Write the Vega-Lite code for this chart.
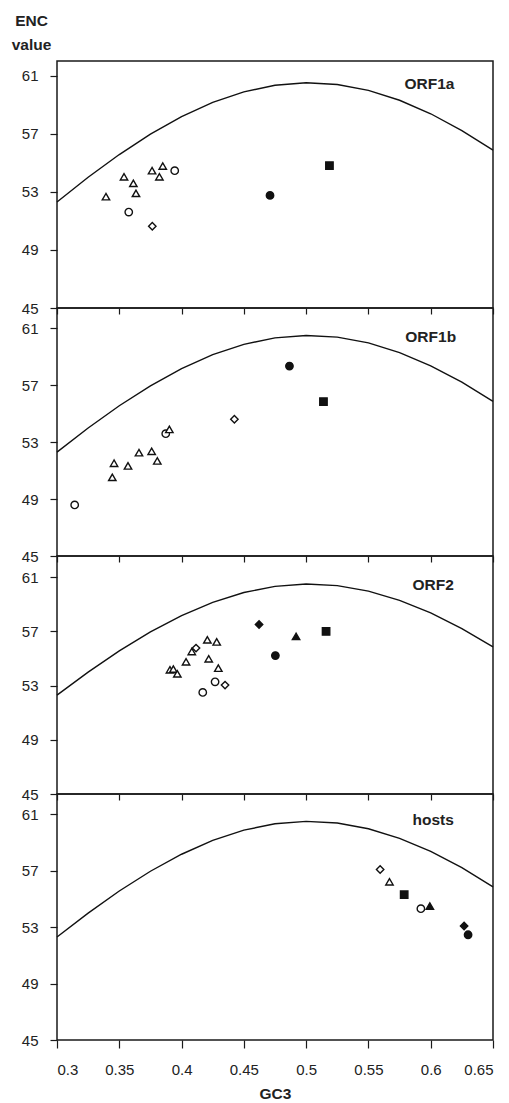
{
  "$schema": "https://vega.github.io/schema/vega-lite/v6.json",
  "autosize": {"type": "pad"},
  "padding": {"left": 10, "top": 12, "right": 0, "bottom": 0},
  "background": "white",
  "spacing": 0,
  "bounds": "flush",
  "config": {
    "font": "Liberation Sans",
    "view": {"stroke": "#1a1a1a", "strokeWidth": 1.5},
    "axis": {"grid": false, "domain": false, "tickColor": "#1a1a1a", "tickWidth": 1.2, "labelColor": "#222", "labelFont": "Liberation Sans", "labelFontSize": 15, "titleFont": "Liberation Sans", "titleFontWeight": "bold", "titleFontSize": 15.5, "titleColor": "#222"}
  },
  "datasets": {
    "curve": [
      {"gc3": 0.3, "enc": 52.3},
      {"gc3": 0.325, "enc": 53.995},
      {"gc3": 0.35, "enc": 55.561},
      {"gc3": 0.375, "enc": 56.963},
      {"gc3": 0.4, "enc": 58.169},
      {"gc3": 0.425, "enc": 59.149},
      {"gc3": 0.45, "enc": 59.876},
      {"gc3": 0.475, "enc": 60.33},
      {"gc3": 0.5, "enc": 60.5},
      {"gc3": 0.525, "enc": 60.38},
      {"gc3": 0.55, "enc": 59.976},
      {"gc3": 0.575, "enc": 59.299},
      {"gc3": 0.6, "enc": 58.369},
      {"gc3": 0.625, "enc": 57.213},
      {"gc3": 0.65, "enc": 55.861}
    ],
    "labels": [
      {"panel": "ORF1a", "gc3": 0.599, "enc": 60.42},
      {"panel": "ORF1b", "gc3": 0.6, "enc": 60.41},
      {"panel": "ORF2", "gc3": 0.602, "enc": 60.46},
      {"panel": "hosts", "gc3": 0.602, "enc": 60.6}
    ],
    "points": [
      {"panel": "ORF1a", "gc3": 0.3393, "enc": 52.66, "marker": "open triangle"},
      {"panel": "ORF1a", "gc3": 0.3538, "enc": 54.03, "marker": "open triangle"},
      {"panel": "ORF1a", "gc3": 0.3613, "enc": 53.58, "marker": "open triangle"},
      {"panel": "ORF1a", "gc3": 0.3634, "enc": 52.89, "marker": "open triangle"},
      {"panel": "ORF1a", "gc3": 0.3763, "enc": 54.45, "marker": "open triangle"},
      {"panel": "ORF1a", "gc3": 0.3822, "enc": 54.03, "marker": "open triangle"},
      {"panel": "ORF1a", "gc3": 0.3849, "enc": 54.77, "marker": "open triangle"},
      {"panel": "ORF1a", "gc3": 0.3945, "enc": 54.45, "marker": "open circle"},
      {"panel": "ORF1a", "gc3": 0.3576, "enc": 51.6, "marker": "open circle"},
      {"panel": "ORF1a", "gc3": 0.3765, "enc": 50.63, "marker": "open diamond"},
      {"panel": "ORF1a", "gc3": 0.471, "enc": 52.75, "marker": "filled circle"},
      {"panel": "ORF1a", "gc3": 0.5187, "enc": 54.8, "marker": "filled square"},
      {"panel": "ORF1b", "gc3": 0.3142, "enc": 48.59, "marker": "open circle"},
      {"panel": "ORF1b", "gc3": 0.3444, "enc": 50.53, "marker": "open triangle"},
      {"panel": "ORF1b", "gc3": 0.3458, "enc": 51.52, "marker": "open triangle"},
      {"panel": "ORF1b", "gc3": 0.357, "enc": 51.33, "marker": "open triangle"},
      {"panel": "ORF1b", "gc3": 0.3658, "enc": 52.26, "marker": "open triangle"},
      {"panel": "ORF1b", "gc3": 0.376, "enc": 52.36, "marker": "open triangle"},
      {"panel": "ORF1b", "gc3": 0.3805, "enc": 51.68, "marker": "open triangle"},
      {"panel": "ORF1b", "gc3": 0.3873, "enc": 53.6, "marker": "open circle"},
      {"panel": "ORF1b", "gc3": 0.3902, "enc": 53.9, "marker": "open triangle"},
      {"panel": "ORF1b", "gc3": 0.4424, "enc": 54.61, "marker": "open diamond"},
      {"panel": "ORF1b", "gc3": 0.4866, "enc": 58.35, "marker": "filled circle"},
      {"panel": "ORF1b", "gc3": 0.5139, "enc": 55.85, "marker": "filled square"},
      {"panel": "ORF2", "gc3": 0.3907, "enc": 54.17, "marker": "open triangle"},
      {"panel": "ORF2", "gc3": 0.3934, "enc": 54.22, "marker": "open triangle"},
      {"panel": "ORF2", "gc3": 0.3966, "enc": 53.87, "marker": "open triangle"},
      {"panel": "ORF2", "gc3": 0.4036, "enc": 54.76, "marker": "open triangle"},
      {"panel": "ORF2", "gc3": 0.4082, "enc": 55.52, "marker": "open triangle"},
      {"panel": "ORF2", "gc3": 0.4116, "enc": 55.77, "marker": "open diamond"},
      {"panel": "ORF2", "gc3": 0.4207, "enc": 56.38, "marker": "open triangle"},
      {"panel": "ORF2", "gc3": 0.4282, "enc": 56.23, "marker": "open triangle"},
      {"panel": "ORF2", "gc3": 0.4218, "enc": 54.98, "marker": "open triangle"},
      {"panel": "ORF2", "gc3": 0.4295, "enc": 54.29, "marker": "open triangle"},
      {"panel": "ORF2", "gc3": 0.4269, "enc": 53.28, "marker": "open circle"},
      {"panel": "ORF2", "gc3": 0.417, "enc": 52.5, "marker": "open circle"},
      {"panel": "ORF2", "gc3": 0.4349, "enc": 53.04, "marker": "open diamond"},
      {"panel": "ORF2", "gc3": 0.4622, "enc": 57.51, "marker": "filled diamond"},
      {"panel": "ORF2", "gc3": 0.4753, "enc": 55.22, "marker": "filled circle"},
      {"panel": "ORF2", "gc3": 0.4919, "enc": 56.63, "marker": "filled triangle"},
      {"panel": "ORF2", "gc3": 0.516, "enc": 57.0, "marker": "filled square"},
      {"panel": "hosts", "gc3": 0.5594, "enc": 57.09, "marker": "open diamond"},
      {"panel": "hosts", "gc3": 0.5669, "enc": 56.22, "marker": "open triangle"},
      {"panel": "hosts", "gc3": 0.5787, "enc": 55.3, "marker": "filled square"},
      {"panel": "hosts", "gc3": 0.5921, "enc": 54.31, "marker": "open circle"},
      {"panel": "hosts", "gc3": 0.5993, "enc": 54.5, "marker": "filled triangle"},
      {"panel": "hosts", "gc3": 0.6268, "enc": 53.08, "marker": "filled diamond"},
      {"panel": "hosts", "gc3": 0.63, "enc": 52.46, "marker": "filled circle"}
    ]
  },
  "vconcat": [
    {
      "width": 436, "height": 247,
      "layer": [
        {"data": {"name": "curve"}, "mark": {"type": "line", "color": "#111", "strokeWidth": 1.4},
         "encoding": {
           "x": {"field": "gc3", "type": "quantitative", "scale": {"domain": [0.3, 0.65], "nice": false, "zero": false}, "axis": {"values": [0.3, 0.35, 0.4, 0.45, 0.5, 0.55, 0.6, 0.65], "labels": false, "title": null, "tickSize": 6}},
           "y": {"field": "enc", "type": "quantitative", "scale": {"domain": [45, 62], "nice": false, "zero": false}, "axis": {"values": [45, 49, 53, 57, 61], "tickSize": 7, "labelPadding": 12, "title": ["ENC", "value"], "titleAngle": 0, "titleAlign": "center", "titleBaseline": "top", "titleX": -26, "titleY": -48, "titleLineHeight": 24}}
         }},
        {"data": {"name": "points"}, "transform": [{"filter": "datum.panel === 'ORF1a'"}],
         "mark": {"type": "point", "filled": true, "stroke": "#111", "strokeWidth": 1.4, "size": 55, "opacity": 1},
         "encoding": {
           "x": {"field": "gc3", "type": "quantitative"},
           "y": {"field": "enc", "type": "quantitative"},
           "shape": {"field": "marker", "type": "nominal", "legend": null, "scale": {"domain": ["open triangle", "open circle", "open diamond", "filled circle", "filled square", "filled triangle", "filled diamond"], "range": ["triangle-up", "circle", "diamond", "circle", "square", "triangle-up", "diamond"]}},
           "fill": {"field": "marker", "type": "nominal", "legend": null, "scale": {"domain": ["open triangle", "open circle", "open diamond", "filled circle", "filled square", "filled triangle", "filled diamond"], "range": ["white", "white", "white", "#111", "#111", "#111", "#111"]}}
         }},
        {"data": {"name": "labels"}, "transform": [{"filter": "datum.panel === 'ORF1a'"}],
         "mark": {"type": "text", "font": "Liberation Sans", "fontWeight": "bold", "fontSize": 15.5, "color": "#222", "align": "center", "baseline": "middle"},
         "encoding": {"x": {"field": "gc3", "type": "quantitative"}, "y": {"field": "enc", "type": "quantitative"}, "text": {"field": "panel"}}}
      ]
    },
    {
      "width": 436, "height": 248,
      "layer": [
        {"data": {"name": "curve"}, "mark": {"type": "line", "color": "#111", "strokeWidth": 1.4},
         "encoding": {
           "x": {"field": "gc3", "type": "quantitative", "scale": {"domain": [0.3, 0.65], "nice": false, "zero": false}, "axis": {"values": [0.3, 0.35, 0.4, 0.45, 0.5, 0.55, 0.6, 0.65], "labels": false, "title": null, "tickSize": 6}},
           "y": {"field": "enc", "type": "quantitative", "scale": {"domain": [45, 62.43], "nice": false, "zero": false}, "axis": {"values": [45, 49, 53, 57, 61], "tickSize": 7, "labelPadding": 12, "title": null}}
         }},
        {"data": {"name": "points"}, "transform": [{"filter": "datum.panel === 'ORF1b'"}],
         "mark": {"type": "point", "filled": true, "stroke": "#111", "strokeWidth": 1.4, "size": 55, "opacity": 1},
         "encoding": {
           "x": {"field": "gc3", "type": "quantitative"},
           "y": {"field": "enc", "type": "quantitative"},
           "shape": {"field": "marker", "type": "nominal", "legend": null, "scale": {"domain": ["open triangle", "open circle", "open diamond", "filled circle", "filled square", "filled triangle", "filled diamond"], "range": ["triangle-up", "circle", "diamond", "circle", "square", "triangle-up", "diamond"]}},
           "fill": {"field": "marker", "type": "nominal", "legend": null, "scale": {"domain": ["open triangle", "open circle", "open diamond", "filled circle", "filled square", "filled triangle", "filled diamond"], "range": ["white", "white", "white", "#111", "#111", "#111", "#111"]}}
         }},
        {"data": {"name": "labels"}, "transform": [{"filter": "datum.panel === 'ORF1b'"}],
         "mark": {"type": "text", "font": "Liberation Sans", "fontWeight": "bold", "fontSize": 15.5, "color": "#222", "align": "center", "baseline": "middle"},
         "encoding": {"x": {"field": "gc3", "type": "quantitative"}, "y": {"field": "enc", "type": "quantitative"}, "text": {"field": "panel"}}}
      ]
    },
    {
      "width": 436, "height": 238,
      "layer": [
        {"data": {"name": "curve"}, "mark": {"type": "line", "color": "#111", "strokeWidth": 1.4},
         "encoding": {
           "x": {"field": "gc3", "type": "quantitative", "scale": {"domain": [0.3, 0.65], "nice": false, "zero": false}, "axis": {"values": [0.3, 0.35, 0.4, 0.45, 0.5, 0.55, 0.6, 0.65], "labels": false, "title": null, "tickSize": 6}},
           "y": {"field": "enc", "type": "quantitative", "scale": {"domain": [45, 62.57], "nice": false, "zero": false}, "axis": {"values": [45, 49, 53, 57, 61], "tickSize": 7, "labelPadding": 12, "title": null}}
         }},
        {"data": {"name": "points"}, "transform": [{"filter": "datum.panel === 'ORF2'"}],
         "mark": {"type": "point", "filled": true, "stroke": "#111", "strokeWidth": 1.4, "size": 55, "opacity": 1},
         "encoding": {
           "x": {"field": "gc3", "type": "quantitative"},
           "y": {"field": "enc", "type": "quantitative"},
           "shape": {"field": "marker", "type": "nominal", "legend": null, "scale": {"domain": ["open triangle", "open circle", "open diamond", "filled circle", "filled square", "filled triangle", "filled diamond"], "range": ["triangle-up", "circle", "diamond", "circle", "square", "triangle-up", "diamond"]}},
           "fill": {"field": "marker", "type": "nominal", "legend": null, "scale": {"domain": ["open triangle", "open circle", "open diamond", "filled circle", "filled square", "filled triangle", "filled diamond"], "range": ["white", "white", "white", "#111", "#111", "#111", "#111"]}}
         }},
        {"data": {"name": "labels"}, "transform": [{"filter": "datum.panel === 'ORF2'"}],
         "mark": {"type": "text", "font": "Liberation Sans", "fontWeight": "bold", "fontSize": 15.5, "color": "#222", "align": "center", "baseline": "middle"},
         "encoding": {"x": {"field": "gc3", "type": "quantitative"}, "y": {"field": "enc", "type": "quantitative"}, "text": {"field": "panel"}}}
      ]
    },
    {
      "width": 436, "height": 246,
      "layer": [
        {"data": {"name": "curve"}, "mark": {"type": "line", "color": "#111", "strokeWidth": 1.4},
         "encoding": {
           "x": {"field": "gc3", "type": "quantitative", "scale": {"domain": [0.3, 0.65], "nice": false, "zero": false}, "axis": {"values": [0.3, 0.35, 0.4, 0.45, 0.5, 0.55, 0.6, 0.65], "format": ".2~f", "tickSize": 8, "labelPadding": 14, "title": "GC3", "titlePadding": 9}},
           "y": {"field": "enc", "type": "quantitative", "scale": {"domain": [45, 62.44], "nice": false, "zero": false}, "axis": {"values": [45, 49, 53, 57, 61], "tickSize": 7, "labelPadding": 12, "title": null}}
         }},
        {"data": {"name": "points"}, "transform": [{"filter": "datum.panel === 'hosts'"}],
         "mark": {"type": "point", "filled": true, "stroke": "#111", "strokeWidth": 1.4, "size": 55, "opacity": 1},
         "encoding": {
           "x": {"field": "gc3", "type": "quantitative"},
           "y": {"field": "enc", "type": "quantitative"},
           "shape": {"field": "marker", "type": "nominal", "legend": null, "scale": {"domain": ["open triangle", "open circle", "open diamond", "filled circle", "filled square", "filled triangle", "filled diamond"], "range": ["triangle-up", "circle", "diamond", "circle", "square", "triangle-up", "diamond"]}},
           "fill": {"field": "marker", "type": "nominal", "legend": null, "scale": {"domain": ["open triangle", "open circle", "open diamond", "filled circle", "filled square", "filled triangle", "filled diamond"], "range": ["white", "white", "white", "#111", "#111", "#111", "#111"]}}
         }},
        {"data": {"name": "labels"}, "transform": [{"filter": "datum.panel === 'hosts'"}],
         "mark": {"type": "text", "font": "Liberation Sans", "fontWeight": "bold", "fontSize": 15.5, "color": "#222", "align": "center", "baseline": "middle"},
         "encoding": {"x": {"field": "gc3", "type": "quantitative"}, "y": {"field": "enc", "type": "quantitative"}, "text": {"field": "panel"}}}
      ]
    }
  ]
}
